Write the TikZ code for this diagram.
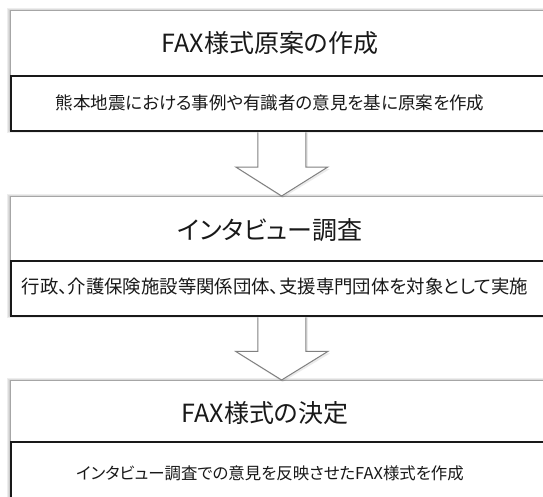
\documentclass[tikz,border=0pt]{standalone}
\usepackage{fontspec}
\newfontfamily\jp[RawFeature=+palt]{Noto Sans CJK JP}
\usetikzlibrary{calc}
\begin{document}
\begin{tikzpicture}[x=1pt,y=-1pt,
  outerbox/.style={draw=black!35, line width=1.2pt, fill=white, anchor=north west, inner sep=0, minimum width=545pt},
  innerbox/.style={draw=black!90, line width=1.6pt, fill=white, anchor=north west, inner sep=0, minimum width=545pt, minimum height=55pt},
  ttl/.style={font=\jp\fontsize{25}{30}\selectfont, inner sep=0, text=black!90},
  sub/.style={font=\jp\fontsize{17.5}{22}\selectfont, inner sep=0, text=black!90},
  arrowsty/.style={draw=black!50, line width=1pt, fill=white, line join=miter},
  shad/.style={fill=black, opacity=0.07}]
\useasboundingbox (0,0) rectangle (543,497);
\clip (0,0) rectangle (543,497);
\fill[white] (0,0) rectangle (543,497);

% shadows of boxes
\foreach \t/\b in {10/130, 196/315, 380/497}{
  \fill[shad] (7,\t-2) rectangle (560,\b+3);
  \fill[shad] (8,\t-1) rectangle (560,\b+2);
  \fill[shad] (9,\t) rectangle (560,\b+1);
}

% boxes
\node[outerbox, minimum height=120pt] (b1) at (10,10) {};
\node[innerbox] (i1) at (10,75) {};
\node[outerbox, minimum height=119pt] (b2) at (10,196) {};
\node[innerbox] (i2) at (10,260) {};
\node[outerbox, minimum height=120pt] (b3) at (10,380) {};
\node[innerbox, minimum height=56pt] (i3) at (10,441) {};

% texts
\node[ttl] (t1) at (270,43) {FAX様式原案の作成};
\node[sub] (s1) at (270,103) {熊本地震における事例や有識者の意見を基に原案を作成};
\node[ttl] (t2) at (270,230) {インタビュー調査};
\node[sub, font=\jp\fontsize{18.4}{22}\selectfont] (s2) at (275,287) {行政、介護保険施設等関係団体、支援専門団体を対象として実施};
\node[ttl] (t3) at (265,413) {FAX様式の決定};
\node[sub, font=\jp\fontsize{16.4}{22}\selectfont] (s3) at (270,473) {インタビュー調査での意見を反映させたFAX様式を作成};

% arrows
\foreach \u/\l [count=\k] in {i1/b2, i2/b3}{
  \coordinate (c\k) at ($(\u.south)+(-1.5,0)$);
  \coordinate (d\k) at ($(\l.north)+(-1.5,0)$);
  \path let \p1=(c\k), \p2=(d\k), \n1={0.45*(\y1)+0.55*(\y2)} in
    coordinate (w\k) at (\x1,\n1);
}
\foreach \k in {1,2}{
  \fill[black, opacity=0.08] ($(c\k)+(-22,1)$) |- ($(w\k)+(-44,2)$) -- ($(d\k)+(1,2)$) -- ($(w\k)+(48,2)$) -| ($(c\k)+(26,1)$) -- cycle;
  \draw[arrowsty] ($(c\k)+(-24,0.8)$) |- ($(w\k)+(-46,0)$) -- (d\k) -- ($(w\k)+(46,0)$) -| ($(c\k)+(24,0.8)$);
}
\draw[black!90, line width=1.6pt] (i1.south west) -- (i1.south east);
\draw[black!90, line width=1.6pt] (i2.south west) -- (i2.south east);
\end{tikzpicture}
\end{document}
